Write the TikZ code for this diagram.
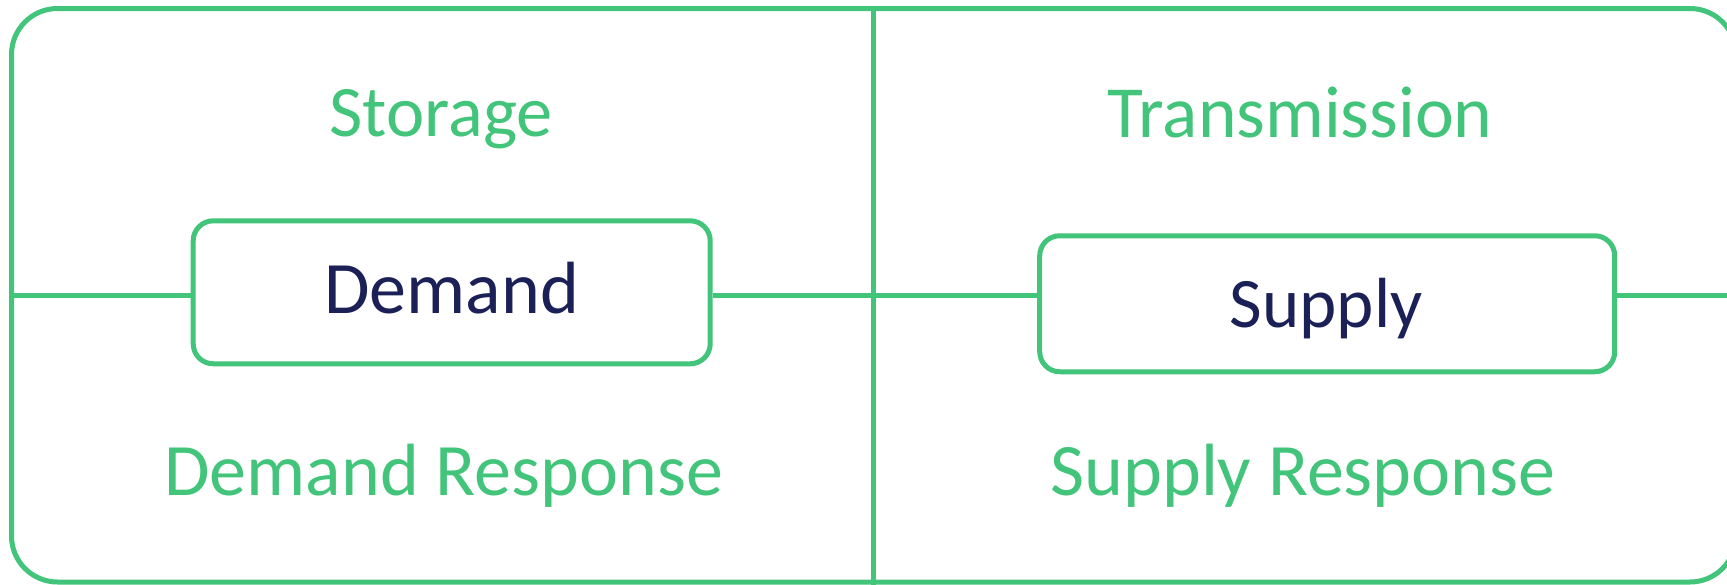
\documentclass[tikz,border=0pt]{standalone}
\usepackage{fontspec}
\setmainfont{Carlito}

\definecolor{lineGreen}{RGB}{66,196,122}
\definecolor{labelNavy}{RGB}{27,33,86}

\tikzset{
  link/.style={draw=lineGreen, line width=5pt},
  frameshape/.style={draw=lineGreen, line width=5pt, rounded corners=46pt,
    inner sep=0pt, rectangle},
  termbox/.style={draw=lineGreen, line width=5pt, rounded corners=20pt,
    inner sep=0pt, rectangle, fill=white},
  termtext/.style={inner sep=0pt, anchor=base, text=labelNavy},
  quadlabel/.style={inner sep=0pt, anchor=base, text=lineGreen},
  fsize/.style={font=\fontsize{#1}{#1}\selectfont},
}

\begin{document}
\begin{tikzpicture}[x=1pt, y=-1pt]
  \useasboundingbox (0,0) rectangle (1727,584);
  \clip (0,0) rectangle (1727,584);

  % outer frame
  \node[frameshape, minimum width=1724.5pt, minimum height=573.5pt]
    (frame) at (873.75,295.25) {};

  % the two central boxes
  \node[termbox, minimum width=517pt, minimum height=143pt]
    (demand) at (451.7,292.3) {};
  \node[termbox, minimum width=575pt, minimum height=136pt]
    (supply) at (1327.2,303.75) {};

  % dividing lines
  \draw[link] (frame.north) -- (frame.south);
  \draw[link] (frame.west) -- (frame.west -| demand.west);
  \draw[link] (frame.west -| demand.east) -- (frame.west -| supply.west);
  \draw[link] (frame.west -| supply.east) -- (frame.east);

  % box texts
  \node[termtext, fsize=74] (demandtext) at (451.7,313.3) {Demand};
  \node[termtext, fsize=71] (supplytext) at (1326.3,327.7) {Supply};

  % quadrant labels
  \node[quadlabel, fsize=72.5] (storage) at (441,136) {Storage};
  \node[quadlabel, fsize=73.5] (transmission) at (1300,137.5) {Transmission};
  \node[quadlabel, fsize=74] (demandresp) at (443.7,495.5) {Demand Response};
  \node[quadlabel, fsize=74] (supplyresp) at (1303,495.5) {Supply Response};
\end{tikzpicture}
\end{document}
